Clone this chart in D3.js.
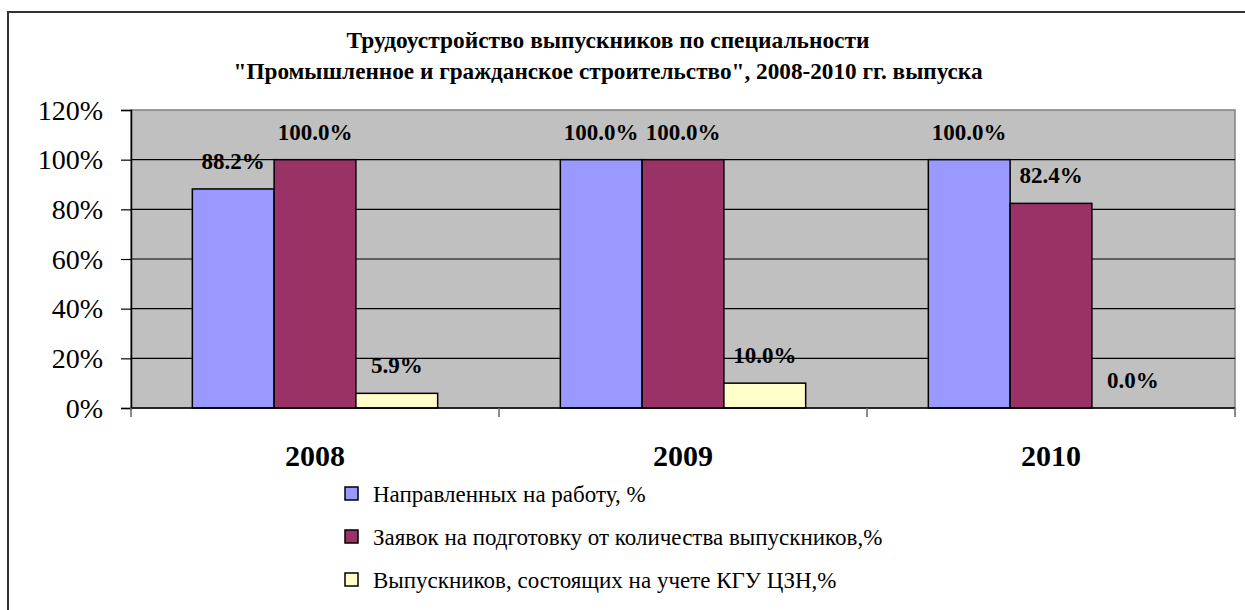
<!DOCTYPE html>
<html><head><meta charset="utf-8">
<script src="https://cdn.jsdelivr.net/npm/d3@7"></script>
<style>
body{margin:0;background:#fff}
svg{display:block}
svg text{font-family:"Liberation Serif","Times New Roman","DejaVu Serif",serif;fill:#000}
</style>
</head><body>
<svg id="c" width="1245" height="610"></svg>
<script>
const categories = ["2008", "2009", "2010"];
const seriesNames = [
  "Направленных на работу, %",
  "Заявок на подготовку от количества выпускников,%",
  "Выпускников, состоящих на учете КГУ ЦЗН,%"
];
const sentToWork = [0.882, 1.0, 1.0];
const applications = [1.0, 1.0, 0.824];
const registered = [0.059, 0.10, 0.0];
const yTicks = [0, 0.2, 0.4, 0.6, 0.8, 1.0, 1.2];
const titleLines = [
  "Трудоустройство выпускников по специальности",
  "\"Промышленное и гражданское строительство\", 2008-2010 гг. выпуска"
];
const colors = ["#9999FF", "#993366", "#FFFFCC"];
const series = [sentToWork, applications, registered];

const svg = d3.select("#c");

// outer chart border
svg.append("rect").attr("x", 8).attr("y", 12).attr("width", 1260).attr("height", 640)
  .attr("fill", "#fff").attr("stroke", "#333").attr("stroke-width", 2);

const L = 131, R = 1235, T = 110, B = 408;
const x = d3.scaleBand().domain(categories).range([L, R]).padding(0);
const barW = x.bandwidth() / (series.length + 1.5);
const gap = barW * 0.75;
const y = d3.scaleLinear().domain([0, 1.2]).range([B, T]);

// plot background
svg.append("rect").attr("x", L).attr("y", T).attr("width", R - L).attr("height", B - T)
  .attr("fill", "#C0C0C0").attr("stroke", "#808080").attr("stroke-width", 1.5);

// gridlines
svg.append("g").selectAll("line").data(yTicks.filter(d => d > 0 && d < 1.2)).join("line")
  .attr("x1", L).attr("x2", R).attr("y1", d => y(d)).attr("y2", d => y(d))
  .attr("stroke", "#000").attr("stroke-width", 1.2);

// bars
series.forEach((vals, si) => {
  svg.append("g").selectAll("rect").data(categories).join("rect")
    .attr("x", (c) => x(c) + gap + si * barW)
    .attr("y", (c, i) => y(vals[i]))
    .attr("width", barW)
    .attr("height", (c, i) => B - y(vals[i]))
    .attr("fill", colors[si]).attr("stroke", "#000").attr("stroke-width", 1.5);
});

// y axis
const yAxis = d3.axisLeft(y).tickValues(yTicks).tickFormat(d3.format(".0%")).tickSize(10).tickPadding(18);
const ya = svg.append("g").attr("transform", `translate(${L},0)`).call(yAxis);
ya.attr("font-family", null).attr("font-size", null);
ya.select(".domain").attr("stroke", "#000").attr("stroke-width", 1.5);
ya.selectAll(".tick line").attr("stroke", "#000").attr("stroke-width", 1.2);
ya.selectAll(".tick text").style("font-size", "28px").attr("dy", "0.33em");

// x axis
const xa = svg.append("g").attr("transform", `translate(0,${B})`);
xa.append("line").attr("x1", L).attr("x2", R).attr("y1", 0).attr("y2", 0).attr("stroke", "#000").attr("stroke-width", 1.5);
const bounds = categories.map(c => x(c)).concat([R]);
xa.selectAll("line.t").data(bounds).join("line").attr("class", "t")
  .attr("x1", d => d).attr("x2", d => d).attr("y1", 0).attr("y2", 9)
  .attr("stroke", "#666").attr("stroke-width", 1.5);
xa.selectAll("text").data(categories).join("text")
  .attr("x", c => x(c) + x.bandwidth() / 2).attr("y", 58)
  .attr("text-anchor", "middle").style("font-weight", "bold")
  .style("font-size", "30px").text(c => c);

// data labels
series.forEach((vals, si) => {
  svg.append("g").selectAll("text").data(categories).join("text")
    .attr("x", c => x(c) + gap + si * barW + barW / 2)
    .attr("y", (c, i) => y(vals[i]) - 20)
    .attr("text-anchor", "middle").style("font-weight", "bold")
    .style("font-size", "23px").text((c, i) => d3.format(".1%")(vals[i]));
});

// title
svg.append("g").selectAll("text").data(titleLines).join("text")
  .attr("x", 608).attr("y", (d, i) => 48 + i * 31)
  .attr("text-anchor", "middle").style("font-weight", "bold")
  .style("font-size", "23px")
  .attr("textLength", (d, i) => i === 0 ? 523 : 749).attr("lengthAdjust", "spacingAndGlyphs")
  .text(d => d);

// legend
const lg = svg.append("g").selectAll("g").data(seriesNames).join("g")
  .attr("transform", (d, i) => `translate(345,${494 + i * 43})`);
lg.append("rect").attr("x", 0).attr("y", -7).attr("width", 13).attr("height", 13)
  .attr("fill", (d, i) => colors[i]).attr("stroke", "#000").attr("stroke-width", 1.5);
lg.append("text").attr("x", 28).attr("y", 0).attr("dy", "0.35em")
  .style("font-size", "23px").text(d => d);
</script>
</body></html>
